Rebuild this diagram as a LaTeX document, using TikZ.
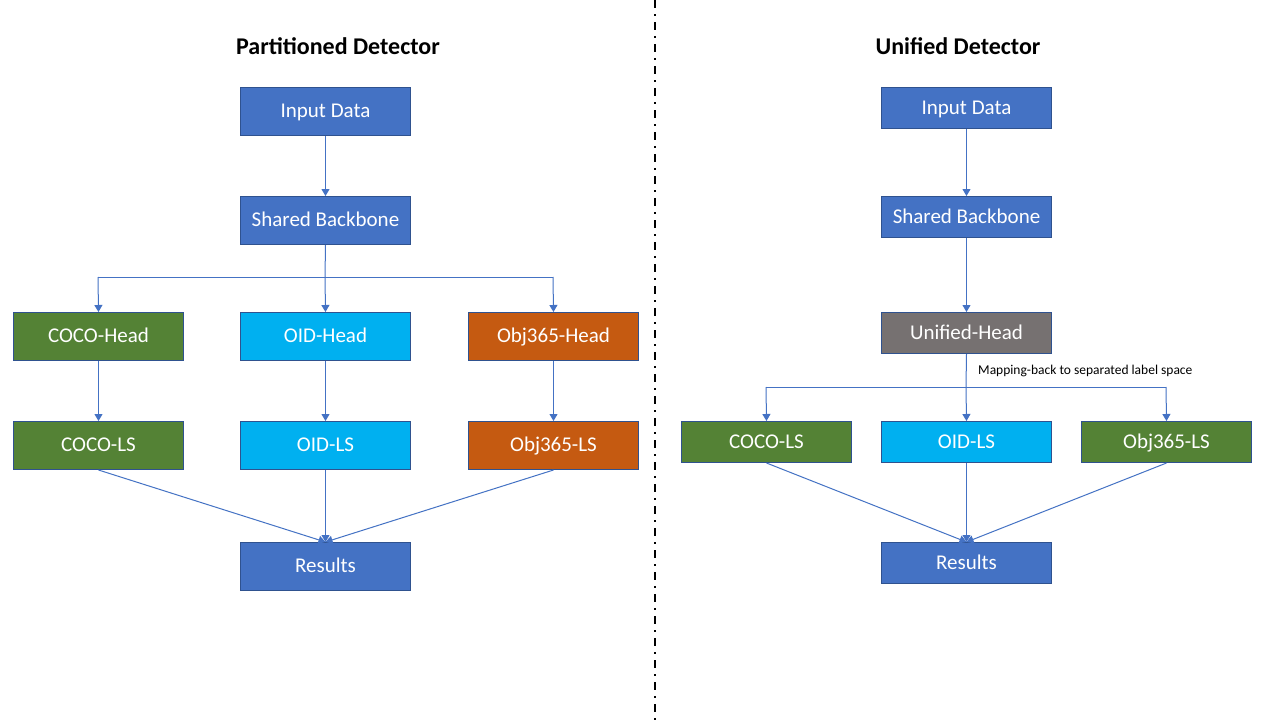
\documentclass[tikz,border=0pt]{standalone}
\usepackage{fontspec}
\setmainfont{Carlito}
\usetikzlibrary{arrows.meta}
\definecolor{bxblue}{HTML}{4472C4}
\definecolor{bxborder}{HTML}{2F528F}
\definecolor{bxgreen}{HTML}{548235}
\definecolor{bxcyan}{HTML}{00B0F0}
\definecolor{bxorange}{HTML}{C55A11}
\definecolor{bxgray}{HTML}{767171}
\tikzset{
  box/.style={draw=bxborder, line width=1pt, text=white, minimum width=170pt, inner sep=0pt, font=\fontsize{21}{23}\selectfont, text height=14pt, text depth=2pt, anchor=north west},
  tall/.style={box, minimum height=48pt},
  short/.style={box, minimum height=41pt},
  conn/.style={draw=bxblue, line width=1pt, -{Triangle[width=8pt,length=7pt]}},
  seg/.style={draw=bxblue, line width=1pt},
  title/.style={font=\fontsize{24}{26}\selectfont\bfseries, text=black},
}
\begin{document}
\begin{tikzpicture}[x=1pt,y=-1pt]
\useasboundingbox[fill=white] (0,0) rectangle (1280,720);
% divider
\coordinate (dtop) at (655,0);
\coordinate (dbot) at (655,720);
\draw[line width=1.6pt, dash pattern=on 8pt off 6pt on 2pt off 6pt] (dtop) -- (dbot);

% ---------- Left ----------
\node[title] (t1) at (338,46) {Partitioned Detector};
\node[tall, fill=bxblue] (in1) at (240,87) {Input Data};
\node[tall, fill=bxblue] (bb1) at (240,196) {Shared Backbone};
\node[tall, fill=bxgreen] (ch) at (13,312) {COCO-Head};
\node[tall, fill=bxcyan] (oh) at (240,312) {OID-Head};
\node[tall, fill=bxorange] (obh) at (468,312) {Obj365-Head};
\node[tall, fill=bxgreen] (cl) at (13,421) {COCO-LS};
\node[tall, fill=bxcyan] (ol) at (240,421) {OID-LS};
\node[tall, fill=bxorange] (obl) at (468,421) {Obj365-LS};
\node[tall, fill=bxblue] (r1) at (240,542) {Results};

\draw[conn] (in1.south) -- (bb1.north);
\coordinate (j1) at (325,277);
\coordinate (jl) at (98,277);
\coordinate (jr) at (553,277);
\draw[seg] (bb1.south) -- (j1);
\draw[seg] (jl) -- (jr);
\draw[conn] (jl) -- (ch.north);
\draw[conn] (j1) -- (oh.north);
\draw[conn] (jr) -- (obh.north);
\draw[conn] (ch.south) -- (cl.north);
\draw[conn] (oh.south) -- (ol.north);
\draw[conn] (obh.south) -- (obl.north);
\draw[conn] (cl.south) -- (r1.north);
\draw[conn] (ol.south) -- (r1.north);
\draw[conn] (obl.south) -- (r1.north);

% ---------- Right ----------
\node[title] (t2) at (958,46) {Unified Detector};
\node[short, fill=bxblue] (in2) at (881,87) {Input Data};
\node[short, fill=bxblue] (bb2) at (881,196) {Shared Backbone};
\node[short, fill=bxgray] (uh) at (881,312) {Unified-Head};
\node[short, fill=bxgreen] (cl2) at (681,421) {COCO-LS};
\node[short, fill=bxcyan] (ol2) at (881,421) {OID-LS};
\node[short, fill=bxgreen] (obl2) at (1081,421) {Obj365-LS};
\node[short, fill=bxblue] (r2) at (881,542) {Results};

\draw[conn] (in2.south) -- (bb2.north);
\draw[conn] (bb2.south) -- (uh.north);
\coordinate (k1) at (966,387);
\coordinate (kl) at (766,387);
\coordinate (kr) at (1166,387);
\draw[seg] (uh.south) -- (k1);
\draw[seg] (kl) -- (kr);
\draw[conn] (kl) -- (cl2.north);
\draw[conn] (k1) -- (ol2.north);
\draw[conn] (kr) -- (obl2.north);
\node[font=\fontsize{13.5}{15}\selectfont, anchor=west, inner sep=0pt] (lbl) at (978,371) {Mapping-back to separated label space};
\draw[conn] (cl2.south) -- (r2.north);
\draw[conn] (ol2.south) -- (r2.north);
\draw[conn] (obl2.south) -- (r2.north);
\end{tikzpicture}
\end{document}
